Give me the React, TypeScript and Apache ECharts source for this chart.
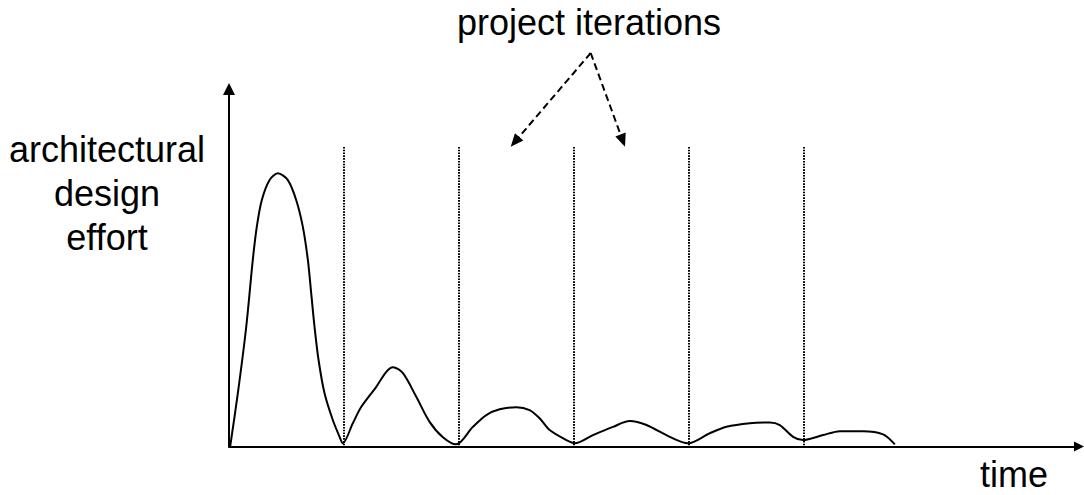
import React, { useEffect, useRef } from "react";
import * as echarts from "echarts";

// Curve: time in iteration units, effort in % of axis height
const curveX = [
  0.01, 0.077, 0.15, 0.207, 0.242, 0.285, 0.352, 0.425, 0.512, 0.585, 0.642, 0.686, 0.715, 0.744, 0.779, 0.831, 0.903, 0.962, 0.99,
  1.077, 1.151, 1.281, 1.368, 1.426, 1.513, 1.629, 1.745, 1.861, 1.977,
  2.122, 2.238, 2.354, 2.5, 2.615, 2.702, 2.789, 2.935, 3.007,
  3.166, 3.34, 3.486, 3.631, 3.834, 3.993,
  4.182, 4.327, 4.53, 4.704, 4.791, 4.907, 4.994,
  5.168, 5.313, 5.516, 5.69, 5.792,
];
const curveY = [
  0, 14.9, 33.5, 52.2, 61.5, 68.9, 74.5, 76.4, 74.5, 68.9, 61.5, 52.2, 42.9, 33.5, 24.2, 14.9, 7.4, 2.7, 0.9,
  6.5, 11.1, 16.7, 20.9, 22.2, 20.5, 13.9, 6.9, 2.6, 0.6,
  5.5, 8.8, 10.4, 11.0, 10.2, 7.9, 4.6, 1.8, 0.9,
  3.2, 5.5, 7.1, 6.0, 2.7, 0.9,
  3.7, 5.5, 6.5, 6.7, 6.0, 2.7, 1.8,
  3.2, 4.3, 4.3, 3.4, 0.6,
];
const iterationBounds = [1, 2, 3, 4, 5];
const dividerTop = 83.8;
const xMax = 7.394;
const yMax = 100;

const yLabel = "architectural\ndesign\neffort";
const xLabel = "time";
const annotation = "project iterations";

const FONT = '"Liberation Sans", Arial, sans-serif';

function arrowGraphics(x1: number, y1: number, x2: number, y2: number) {
  const dx = x2 - x1;
  const dy = y2 - y1;
  const len = Math.sqrt(dx * dx + dy * dy);
  const ux = dx / len;
  const uy = dy / len;
  const headLen = 13;
  const headW = 5.5;
  const bx = x2 - ux * headLen;
  const by = y2 - uy * headLen;
  const px = -uy;
  const py = ux;
  return [
    {
      type: "line",
      shape: { x1, y1, x2: bx + ux * 2, y2: by + uy * 2 },
      style: { stroke: "#000", lineWidth: 2, lineDash: [7, 4] },
    },
    {
      type: "polygon",
      shape: {
        points: [
          [x2, y2],
          [bx + px * headW, by + py * headW],
          [bx - px * headW, by - py * headW],
        ],
      },
      style: { fill: "#000" },
    },
  ];
}

export default function App() {
  const ref = useRef<HTMLDivElement>(null);
  useEffect(() => {
    if (!ref.current) return;
    const chart = echarts.init(ref.current, undefined, { renderer: "svg" });
    const data = curveX.map((x, i) => [x, curveY[i]]);
    const axisCommon = {
      type: "value" as const,
      axisTick: { show: false },
      axisLabel: { show: false },
      splitLine: { show: false },
    };
    chart.setOption({
      animation: false,
      backgroundColor: "#fff",
      grid: { left: 229, right: 5, top: 89, bottom: 48.5, containLabel: false },
      xAxis: {
        ...axisCommon,
        min: 0,
        max: xMax,
        axisLine: {
          show: true,
          onZero: false,
          symbol: ["none", "triangle"],
          symbolSize: [10, 10],
          lineStyle: { color: "#000", width: 2 },
        },
      },
      yAxis: {
        ...axisCommon,
        min: 0,
        max: yMax,
        axisLine: {
          show: true,
          onZero: false,
          symbol: ["none", "triangle"],
          symbolSize: [12, 12],
          lineStyle: { color: "#000", width: 2 },
        },
      },
      series: [
        {
          type: "line",
          data,
          smooth: 0.3,
          showSymbol: false,
          clip: false,
          lineStyle: { color: "#000", width: 2 },
          silent: true,
          markLine: {
            silent: true,
            symbol: "none",
            label: { show: false },
            lineStyle: { color: "#000", width: 2, type: [1.6, 1.2] },
            data: iterationBounds.map((b) => [
              { coord: [b, dividerTop] },
              { coord: [b, 0] },
            ]),
          },
        },
      ],
      graphic: [
        {
          type: "text",
          x: 107,
          y: 193.5,
          style: {
            text: yLabel,
            font: `36px ${FONT}`,
            fill: "#000",
            textAlign: "center",
            textVerticalAlign: "middle",
            lineHeight: 44,
          },
        },
        {
          type: "text",
          x: 589,
          y: 22.5,
          style: {
            text: annotation,
            font: `36px ${FONT}`,
            fill: "#000",
            textAlign: "center",
            textVerticalAlign: "middle",
          },
        },
        {
          type: "text",
          x: 1014,
          y: 474,
          style: {
            text: xLabel,
            font: `36px ${FONT}`,
            fill: "#000",
            textAlign: "center",
            textVerticalAlign: "middle",
          },
        },
        ...arrowGraphics(590.7, 53, 510.7, 146.7),
        ...arrowGraphics(590.7, 53, 625, 146.7),
      ],
    });
    return () => chart.dispose();
  }, []);
  return (
    <div
      ref={ref}
      style={{ position: "absolute", left: 0, top: 0, width: 1084, height: 495 }}
    />
  );
}
